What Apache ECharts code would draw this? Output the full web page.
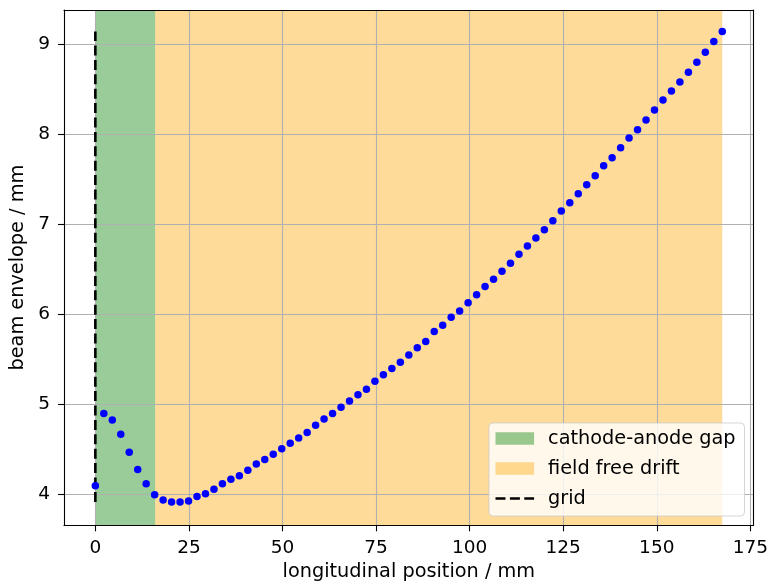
<!DOCTYPE html>
<html>
<head>
<meta charset="utf-8">
<script src="https://cdn.jsdelivr.net/npm/echarts@6/dist/echarts.min.js"></script>
<style>
  html, body { margin: 0; padding: 0; background: #fff; }
  #chart { width: 771px; height: 587px; }
</style>
</head>
<body>
<div id="chart"></div>
<script>
// Longitudinal sample positions along the beam line (mm)
const positions = [
  0.00, 2.26, 4.53, 6.79, 9.05, 11.32, 13.58, 15.84, 18.11, 20.37,
  22.64, 24.90, 27.16, 29.43, 31.69, 33.95, 36.22, 38.48, 40.74, 43.01,
  45.27, 47.53, 49.80, 52.06, 54.32, 56.59, 58.85, 61.11, 63.38, 65.64,
  67.91, 70.17, 72.43, 74.70, 76.96, 79.22, 81.49, 83.75, 86.01, 88.28,
  90.54, 92.80, 95.07, 97.33, 99.59, 101.86, 104.12, 106.39, 108.65, 110.91,
  113.18, 115.44, 117.70, 119.97, 122.23, 124.49, 126.76, 129.02, 131.28, 133.55,
  135.81, 138.07, 140.34, 142.60, 144.86, 147.13, 149.39, 151.66, 153.92, 156.18,
  158.45, 160.71, 162.97, 165.24, 167.50
];

// Beam envelope radius at each position (mm)
const envelope = [
  4.10, 4.90, 4.83, 4.67, 4.47, 4.28, 4.12, 4.00, 3.94, 3.92,
  3.92, 3.93, 3.98, 4.01, 4.06, 4.12, 4.17, 4.21, 4.27, 4.34,
  4.39, 4.45, 4.51, 4.57, 4.63, 4.69, 4.77, 4.84, 4.90, 4.97,
  5.04, 5.11, 5.17, 5.26, 5.33, 5.40, 5.47, 5.55, 5.63, 5.70,
  5.81, 5.88, 5.97, 6.04, 6.13, 6.22, 6.31, 6.39, 6.48, 6.57,
  6.67, 6.76, 6.85, 6.94, 7.04, 7.15, 7.24, 7.34, 7.44, 7.54,
  7.65, 7.74, 7.85, 7.96, 8.05, 8.16, 8.27, 8.38, 8.48, 8.58,
  8.69, 8.80, 8.91, 9.03, 9.14
];

// Regions along the beam line (mm)
const gapSpan = [0, 16];
const driftSpan = [16, 167.5];

// Grid electrode position and the vertical extent of its marker
const gridPosition = 0;
const gridExtent = [3.92, 9.14];

// Tick values
const xTicks = [0, 25, 50, 75, 100, 125, 150, 175];
const yTicks = [4, 5, 6, 7, 8, 9];

// Axis limits
const xLimits = [-8.375, 175.875];
const yLimits = [3.66, 9.38];

const FONT = 'DejaVu Sans';
const TICK_FS = 18.5;
const TEXT_FS = 19.3;
const GAP_COLOR = 'rgba(0,128,0,0.4)';
const DRIFT_COLOR = 'rgba(255,165,0,0.4)';

// Three dashes, used as the legend key of the dashed grid marker
const DASH_ICON = 'path://M0,0h10v2.6h-10z M14.4,0h10v2.6h-10z M28.8,0h9.8v2.6h-9.8z';

const chart = echarts.init(document.getElementById('chart'), null, { renderer: 'canvas' });

const frameLine = { show: true, onZero: false, lineStyle: { color: '#000', width: 1.1 } };

const option = {
  animation: false,
  backgroundColor: '#fff',
  grid: { left: 64, top: 10, right: 15.5, bottom: 61.7, containLabel: false },
  xAxis: [
    {
      type: 'value',
      min: xLimits[0], max: xLimits[1],
      position: 'bottom',
      z: 6,
      name: 'longitudinal position / mm',
      nameLocation: 'middle',
      nameGap: 37,
      nameTextStyle: { fontFamily: FONT, fontSize: TEXT_FS, color: '#000' },
      axisLine: frameLine,
      axisTick: { show: true, length: 6, customValues: xTicks, lineStyle: { color: '#000', width: 1.1 } },
      axisLabel: { show: true, customValues: xTicks, margin: 13, fontFamily: FONT, fontSize: TICK_FS, color: '#000' },
      splitLine: { show: false }
    },
    {
      type: 'value',
      min: xLimits[0], max: xLimits[1],
      position: 'top',
      z: 6,
      axisLine: frameLine,
      axisTick: { show: false },
      axisLabel: { show: false },
      splitLine: { show: false }
    }
  ],
  yAxis: [
    {
      type: 'value',
      min: yLimits[0], max: yLimits[1],
      position: 'left',
      z: 6,
      name: 'beam envelope / mm',
      nameLocation: 'middle',
      nameGap: 36,
      nameTextStyle: { fontFamily: FONT, fontSize: TEXT_FS, color: '#000' },
      axisLine: frameLine,
      axisTick: { show: true, length: 6, customValues: yTicks, lineStyle: { color: '#000', width: 1.1 } },
      axisLabel: { show: true, customValues: yTicks, margin: 14, fontFamily: FONT, fontSize: TICK_FS, color: '#000' },
      splitLine: { show: false }
    },
    {
      type: 'value',
      min: yLimits[0], max: yLimits[1],
      position: 'right',
      z: 6,
      axisLine: frameLine,
      axisTick: { show: false },
      axisLabel: { show: false },
      splitLine: { show: false }
    }
  ],
  legend: {
    orient: 'vertical',
    left: 489,
    top: 423,
    padding: [6, 9, 8, 6.5],
    itemWidth: 38.6,
    itemHeight: 12.7,
    itemGap: 11,
    itemStyle: { borderWidth: 0 },
    backgroundColor: 'rgba(255,255,255,0.8)',
    borderColor: 'rgba(204,204,204,0.8)',
    borderWidth: 1,
    borderRadius: 4,
    textStyle: { fontFamily: FONT, fontSize: TEXT_FS, lineHeight: 19, color: '#000', padding: [0, 0, 0, 9] },
    data: [
      { name: 'cathode-anode gap', icon: 'rect' },
      { name: 'field free drift', icon: 'rect' },
      { name: 'grid', icon: DASH_ICON, itemStyle: { color: '#000' } }
    ]
  },
  series: [
    {
      name: 'cathode-anode gap',
      type: 'line',
      data: [],
      color: GAP_COLOR,
      itemStyle: { color: GAP_COLOR },
      silent: true,
      markArea: {
        silent: true,
        z: 1,
        itemStyle: { color: GAP_COLOR },
        data: [[{ xAxis: gapSpan[0] }, { xAxis: gapSpan[1] }]]
      }
    },
    {
      name: 'field free drift',
      type: 'line',
      data: [],
      color: DRIFT_COLOR,
      itemStyle: { color: DRIFT_COLOR },
      silent: true,
      markArea: {
        silent: true,
        z: 1,
        itemStyle: { color: DRIFT_COLOR },
        data: [[{ xAxis: driftSpan[0] }, { xAxis: driftSpan[1] }]]
      }
    },
    {
      name: 'gridlines',
      type: 'line',
      data: [],
      silent: true,
      markLine: {
        silent: true,
        z: 1.5,
        symbol: ['none', 'none'],
        label: { show: false },
        lineStyle: { color: '#b0b0b0', width: 1.1, type: 'solid' },
        emphasis: { disabled: true },
        data: xTicks.map(v => ({ xAxis: v })).concat(yTicks.map(v => ({ yAxis: v })))
      }
    },
    {
      name: 'grid',
      type: 'line',
      z: 2,
      showSymbol: false,
      symbol: 'none',
      color: '#000',
      itemStyle: { color: '#000' },
      lineStyle: { color: '#000', width: 2.6, type: [10, 4.4] },
      data: [[gridPosition, gridExtent[0]], [gridPosition, gridExtent[1]]]
    },
    {
      name: 'envelope',
      type: 'scatter',
      z: 3,
      symbol: 'circle',
      symbolSize: 7.5,
      itemStyle: { color: '#0000ff', opacity: 1 },
      data: positions.map((x, i) => [x, envelope[i]])
    }
  ]
};

chart.setOption(option);
</script>
</body>
</html>
